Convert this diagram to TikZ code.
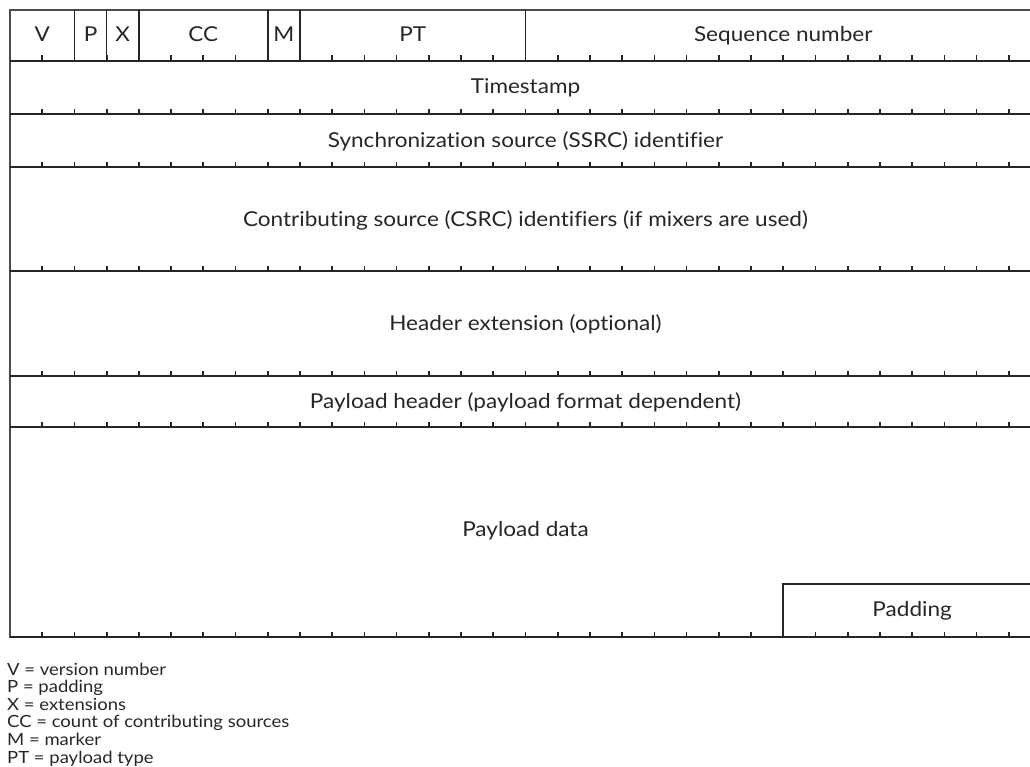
\documentclass[tikz,border=0pt]{standalone}
\usepackage{fontspec}
\setmainfont{Lato}[FakeStretch=1.1,Ligatures=NoCommon]
\begin{document}
\begin{tikzpicture}[x=1bp,y=-1bp,
  rule/.style={line width=1.6bp,draw=black!85},
  border/.style={line width=2.2bp,draw=black!70},
  tickmark/.style={line width=1.7bp,draw=black!85},
  field/.style={font=\fontsize{20.5bp}{24bp}\selectfont,inner sep=0pt,anchor=base,text=black!85},
  legend/.style={font=\fontsize{16.8bp}{17.6bp}\selectfont,inner sep=0pt,anchor=base west,text=black!85}]
\useasboundingbox (0,0) rectangle (1030,767);
\clip (0,0) rectangle (1030,767);
% bit width and left edge of the 32-bit header grid
\def\bw{32.22}
\def\xo{10}
\pgfmathsetmacro{\xr}{\xo+32*\bw}
% outer frame
\draw[border] (\xr,10) -- (\xo,10) -- (\xo,637) -- (\xr,637) -- cycle;
% row separators
\foreach \y in {61,114,167,271,376,427}
  \draw[rule] (\xo,\y) -- (\xr,\y);
\draw[rule] (\xo,637) -- (\xr,637);
% bit ticks on every row separator
\foreach \y in {61,114,167,271,376,427,637}
  \foreach \n in {1,...,31}
    \draw[tickmark] ({\xo+\n*\bw},\y) -- ++(0,-5.5);
% first row field dividers
\foreach \n in {2,3,4,8,9,16}
  \draw[rule] ({\xo+\n*\bw},10) -- ({\xo+\n*\bw},61);
% padding box in the last word
\draw[rule] ({\xo+24*\bw},637) -- ({\xo+24*\bw},584) -- (\xr,584);
% field labels
\node[field] (v)    at ({\xo+1*\bw},42) {V};
\node[field] (p)    at ({\xo+2.5*\bw},42) {P};
\node[field] (x)    at ({\xo+3.5*\bw},42) {X};
\node[field] (cc)   at ({\xo+6*\bw},42) {CC};
\node[field] (m)    at ({\xo+8.5*\bw},42) {M};
\node[field] (pt)   at ({\xo+12.5*\bw},42) {PT};
\node[field] (seq)  at ({\xo+24*\bw},42) {Sequence number};
\node[field] (ts)   at ({\xo+16*\bw},94) {Timestamp};
\node[field] (ssrc) at ({\xo+16*\bw},147) {Synchronization source (SSRC) identifier};
\node[field] (csrc) at ({\xo+16*\bw},226) {Contributing source (CSRC) identifiers (if mixers are used)};
\node[field] (hext) at ({\xo+16*\bw},330) {Header extension (optional)};
\node[field] (phdr) at ({\xo+16*\bw},408) {Payload header (payload format dependent)};
\node[field] (pdat) at ({\xo+16*\bw},536) {Payload data};
\node[field] (pad)  at ({\xo+28*\bw},616) {Padding};
% legend
\node[legend] (l1) at (7,675) {V = version number};
\node[legend] (l2) at (7,692.6) {P = padding};
\node[legend] (l3) at (7,710.2) {X = extensions};
\node[legend] (l4) at (7,727.8) {CC = count of contributing sources};
\node[legend] (l5) at (7,745.4) {M = marker};
\node[legend] (l6) at (7,763) {PT = payload type};
\end{tikzpicture}
\end{document}
